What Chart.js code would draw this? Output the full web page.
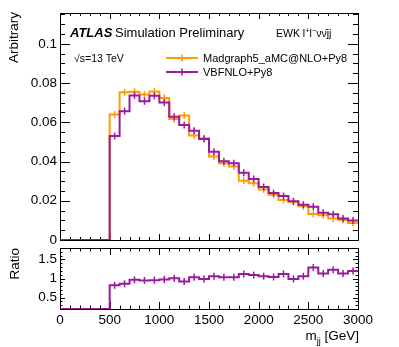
<!DOCTYPE html>
<html>
<head>
<meta charset="utf-8">
<script src="https://cdn.jsdelivr.net/npm/chart.js@4"></script>
<style>
  html, body { margin: 0; padding: 0; background: #fff; }
  #wrap { position: relative; width: 399px; height: 347px; }
  canvas { position: absolute; left: 0; top: 0; }
</style>
</head>
<body>
<div id="wrap">
  <canvas id="main-hist" width="399" height="347"></canvas>
  <canvas id="ratio-hist" width="399" height="347"></canvas>
</div>
<script>
// m_jj bins, 100 GeV wide
const bin_edges = [0, 100, 200, 300, 400, 500, 600, 700, 800, 900, 1000,
    1100, 1200, 1300, 1400, 1500, 1600, 1700, 1800, 1900, 2000,
    2100, 2200, 2300, 2400, 2500, 2600, 2700, 2800, 2900, 3000];

const madgraph_vals = [0, 0, 0, 0, 0, 0.0640, 0.0753, 0.0756, 0.0741, 0.0757,
    0.0724, 0.0617, 0.0635, 0.0532, 0.0518, 0.0425, 0.0391, 0.0374, 0.0302, 0.0289,
    0.0258, 0.0231, 0.0204, 0.0195, 0.0172, 0.0132, 0.0126, 0.0110, 0.0102, 0.0087];

const vbfnlo_vals = [0, 0, 0, 0, 0, 0.0530, 0.0656, 0.0737, 0.0707, 0.0735,
    0.0701, 0.0628, 0.0586, 0.0557, 0.0515, 0.0450, 0.0401, 0.0391, 0.0343, 0.0311,
    0.0270, 0.0239, 0.0224, 0.0197, 0.0180, 0.0170, 0.0139, 0.0131, 0.0110, 0.0100];

const ratio_vals = [0, 0, 0, 0, 0, 0.82, 0.86, 0.965, 0.95, 0.956,
    0.974, 1.008, 0.92, 1.03, 0.99, 1.06, 1.03, 1.03, 1.12, 1.09,
    1.06, 1.04, 1.12, 0.99, 1.06, 1.29, 1.13, 1.23, 1.13, 1.20];

const main_y_ticks = [0, 0.02, 0.04, 0.06, 0.08, 0.1];
const ratio_y_ticks = [0.5, 1, 1.5];
const x_ticks = [0, 500, 1000, 1500, 2000, 2500, 3000];

const main_y_max = 0.1157;
const ratio_min = 0.2;
const ratio_max = 1.8;

const font_family = "'Liberation Sans', Arial, Helvetica, sans-serif";
const orange = '#ff9c00';
const purple = '#9a1a9e';

function stepPoints(vals){
    // a point on each left edge, plus the last right edge
    let pts = [];
    for(i = 0; i < vals.length; i++){
        pts.push({x: bin_edges[i], y: vals[i]});
    }
    pts.push({x: bin_edges[vals.length], y: vals[vals.length - 1]});
    return pts;
}

function errPoints(vals){
    let pts = [];
    for(i = 0; i < vals.length; i++){
        if(vals[i] > 0)
            pts.push({x: (bin_edges[i] + bin_edges[i + 1]) / 2, y: vals[i]});
    }
    return pts;
}

function stepSet(vals, color){
    return {
        data: stepPoints(vals),
        stepped: true,
        borderColor: color,
        borderWidth: 2,
        borderJoinStyle: 'miter',
        pointRadius: 0,
        fill: false
    };
}

function errSet(vals, color){
    return {
        data: errPoints(vals),
        showLine: false,
        pointStyle: 'line',
        pointRotation: 90,
        pointRadius: 3.5,
        pointBorderColor: color,
        pointBorderWidth: 1.5
    };
}

function fmt(v){
    return String(Math.round(v * 1000) / 1000);
}

// ROOT style frame with ticks pointing inwards
function framePlugin(xMinor, xMajorLen, xMinorLen, yMinor, yMajorLen, yMinorLen){
    return {
        id: 'rootFrame',
        beforeDatasetsDraw(chart){
            const ctx = chart.ctx;
            const a = chart.chartArea;
            const xs = chart.scales.x;
            const ys = chart.scales.y;
            ctx.save();
            ctx.strokeStyle = '#000';
            ctx.lineWidth = 1;
            ctx.beginPath();
            for(const t of xMinor){
                const px = Math.round(xs.getPixelForValue(t.v)) + 0.5;
                const len = t.major ? xMajorLen : xMinorLen;
                ctx.moveTo(px, a.bottom); ctx.lineTo(px, a.bottom - len);
                ctx.moveTo(px, a.top); ctx.lineTo(px, a.top + len);
            }
            for(const t of yMinor){
                const py = Math.round(ys.getPixelForValue(t.v)) + 0.5;
                const len = t.major ? yMajorLen : yMinorLen;
                ctx.moveTo(a.left, py); ctx.lineTo(a.left + len, py);
                ctx.moveTo(a.right, py); ctx.lineTo(a.right - len, py);
            }
            ctx.stroke();
            ctx.strokeRect(a.left + 0.5, a.top + 0.5, a.right - a.left, a.bottom - a.top);
            ctx.restore();
        }
    };
}

let x_minor = [];
for(k = 0; k <= 30; k++){
    x_minor.push({v: k * 100, major: k % 5 == 0});
}
let main_y_minor = [];
for(k = 0; k <= 23; k++){
    main_y_minor.push({v: k * 0.005, major: k % 4 == 0});
}
let ratio_y_minor = [];
for(k = 2; k <= 18; k++){
    ratio_y_minor.push({v: k * 0.1, major: k % 5 == 0});
}

function rotatedTitle(ctx, text, x, yTop){
    ctx.save();
    ctx.translate(x, yTop);
    ctx.rotate(-Math.PI / 2);
    ctx.textAlign = 'right';
    ctx.textBaseline = 'alphabetic';
    ctx.fillText(text, 0, 0);
    ctx.restore();
}

const mainText = {
    id: 'mainText',
    afterDraw(chart){
        const ctx = chart.ctx;
        ctx.save();
        ctx.fillStyle = '#000';
        ctx.textBaseline = 'alphabetic';

        ctx.font = '13.5px ' + font_family;
        rotatedTitle(ctx, 'Arbitrary', 17.5, 12);

        ctx.font = 'italic bold 13px ' + font_family;
        ctx.fillText('ATLAS', 70, 37);
        ctx.font = '13px ' + font_family;
        ctx.fillText('Simulation Preliminary', 115, 37);

        ctx.font = '10.5px ' + font_family;
        ctx.fillText('\u221As=13 TeV', 74, 61.5);

        // EWK l+l- nu nubar jj
        let x = 276;
        const parts = [['EWK l', false], ['+', true], ['l', false], ['\u2212', true], ['\u03BD\u03BD\u0304jj', false]];
        for(const p of parts){
            ctx.font = (p[1] ? '7.5px ' : '10.5px ') + font_family;
            ctx.fillText(p[0], x, p[1] ? 33 : 37);
            x += ctx.measureText(p[0]).width;
        }

        // legend
        const entries = [['Madgraph5_aMC@NLO+Py8', orange, 58], ['VBFNLO+Py8', purple, 72]];
        for(const e of entries){
            ctx.strokeStyle = e[1];
            ctx.lineWidth = 2;
            ctx.beginPath();
            ctx.moveTo(166, e[2]); ctx.lineTo(198, e[2]);
            ctx.stroke();
            ctx.lineWidth = 1.5;
            ctx.beginPath();
            ctx.moveTo(182, e[2] - 3.5); ctx.lineTo(182, e[2] + 3.5);
            ctx.stroke();
            ctx.font = '11px ' + font_family;
            ctx.textBaseline = 'middle';
            ctx.fillText(e[0], 203, e[2] + 0.5);
            ctx.textBaseline = 'alphabetic';
        }
        ctx.restore();
    }
};

const ratioText = {
    id: 'ratioText',
    afterDraw(chart){
        const ctx = chart.ctx;
        ctx.save();
        ctx.fillStyle = '#000';
        ctx.font = '13.5px ' + font_family;
        rotatedTitle(ctx, 'Ratio', 18.5, 248);

        // m_jj [GeV], right aligned on the frame edge
        const main_font = '13.5px ' + font_family;
        const sub_font = '9px ' + font_family;
        ctx.font = main_font;
        const w1 = ctx.measureText('m').width;
        const w3 = ctx.measureText(' [GeV]').width;
        ctx.font = sub_font;
        const w2 = ctx.measureText('jj').width;
        let x = 359 - (w1 + w2 + w3);
        ctx.textBaseline = 'alphabetic';
        ctx.font = main_font;
        ctx.fillText('m', x, 340);
        ctx.font = sub_font;
        ctx.fillText('jj', x + w1, 344);
        ctx.font = main_font;
        ctx.fillText(' [GeV]', x + w1 + w2, 340);
        ctx.restore();
    }
};

const tick_font = {family: font_family, size: 13.5};

const main_chart = new Chart(document.getElementById('main-hist').getContext('2d'), {
    type: 'line',
    data: {
        datasets: [
            stepSet(vbfnlo_vals, purple),
            errSet(vbfnlo_vals, purple),
            stepSet(madgraph_vals, orange),
            errSet(madgraph_vals, orange)
        ]
    },
    options: {
        responsive: false,
        animation: false,
        events: [],
        layout: {padding: {left: 0, right: 41, top: 13, bottom: 107}},
        plugins: {legend: {display: false}, tooltip: {enabled: false}},
        scales: {
            x: {type: 'linear', min: 0, max: 3000, display: false},
            y: {
                type: 'linear', min: 0, max: main_y_max,
                afterBuildTicks: s => { s.ticks = main_y_ticks.map(v => ({value: v})); },
                afterFit: s => { s.width = 60; },
                grid: {display: false, drawTicks: false},
                border: {display: false},
                ticks: {padding: 3, color: '#000', font: tick_font, callback: v => fmt(v)}
            }
        }
    },
    plugins: [framePlugin(x_minor, 6, 3, main_y_minor, 10, 5), mainText]
});

const ratio_shown = ratio_vals.map(v => Math.max(v, ratio_min));

const ratio_chart = new Chart(document.getElementById('ratio-hist').getContext('2d'), {
    type: 'line',
    data: {
        datasets: [
            stepSet(ratio_shown, purple),
            errSet(ratio_vals, purple)
        ]
    },
    options: {
        responsive: false,
        animation: false,
        events: [],
        layout: {padding: {left: 0, right: 41, top: 248, bottom: 0}},
        plugins: {legend: {display: false}, tooltip: {enabled: false}},
        scales: {
            x: {
                type: 'linear', min: 0, max: 3000,
                afterBuildTicks: s => { s.ticks = x_ticks.map(v => ({value: v})); },
                afterFit: s => { s.height = 38; },
                grid: {display: false, drawTicks: false},
                border: {display: false},
                ticks: {padding: 3, color: '#000', font: tick_font, maxRotation: 0, autoSkip: false, callback: v => String(v)}
            },
            y: {
                type: 'linear', min: ratio_min, max: ratio_max,
                afterBuildTicks: s => { s.ticks = ratio_y_ticks.map(v => ({value: v})); },
                afterFit: s => { s.width = 60; },
                grid: {display: false, drawTicks: false},
                border: {display: false},
                ticks: {padding: 3, color: '#000', font: tick_font, callback: v => fmt(v)}
            }
        }
    },
    plugins: [framePlugin(x_minor, 7, 3.5, ratio_y_minor, 5, 2.5), ratioText]
});
</script>
</body>
</html>
